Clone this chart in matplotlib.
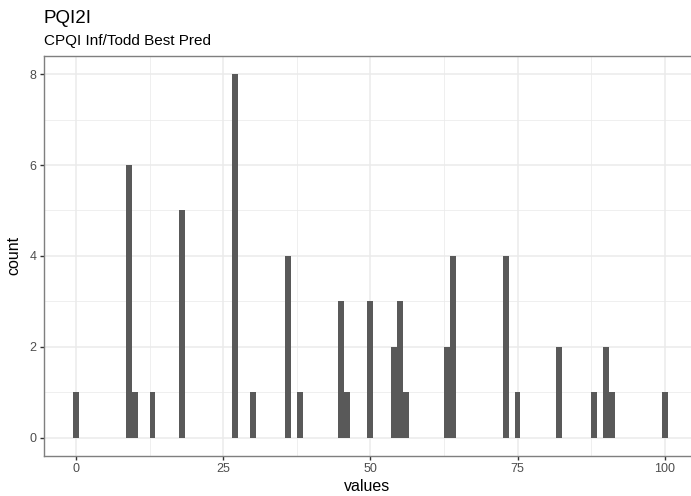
import matplotlib.pyplot as plt
import numpy as np

values = [0, 9, 10, 13, 18, 27, 30, 36, 38, 45, 46, 50, 54, 55, 56,
          63, 64, 73, 75, 82, 88, 90, 91, 100]
counts = [1, 6, 1, 1, 5, 8, 1, 4, 1, 3, 1, 3, 2, 3, 1,
          2, 4, 4, 1, 2, 1, 2, 1, 1]
xticks = [0, 25, 50, 75, 100]
yticks = [0, 2, 4, 6, 8]

plt.rcParams['font.family'] = ['Liberation Sans', 'DejaVu Sans']

W, H = 691, 496
fig = plt.figure(figsize=(W / 100, H / 100), dpi=100)
left, right, top, bottom = 43.7, 691, 56, 455.7
ax = fig.add_axes([left / W, 1 - bottom / H, (right - left) / W, (bottom - top) / H])

ax.bar(values, counts, width=1.0, color='#595959', edgecolor='none', zorder=3)

ax.set_xlim(-5.49, 104.47)
ax.set_ylim(-0.4, 8.4)
ax.set_xticks(xticks)
ax.set_yticks(yticks)
ax.set_xticks([12.5, 37.5, 62.5, 87.5], minor=True)
ax.set_yticks([1, 3, 5, 7], minor=True)
ax.grid(True, which='major', color='#ebebeb', lw=1.1, zorder=0)
ax.grid(True, which='minor', color='#ebebeb', lw=0.55, zorder=0)
ax.tick_params(which='major', length=3, width=1, color='#333333',
               labelsize=9, labelcolor='#4d4d4d', pad=2)
ax.tick_params(which='minor', length=0)

for s in ['left', 'top', 'bottom']:
    ax.spines[s].set_color('#7f7f7f')
    ax.spines[s].set_linewidth(1.0)
ax.spines['right'].set_visible(False)

ax.set_xlabel('values', fontsize=11.5, labelpad=3)
ax.set_ylabel('count', fontsize=11.5, labelpad=6)

fig.text(left / W, 1 - 22.7 / H, 'PQI2I', fontsize=13.5, ha='left', va='baseline')
fig.text(left / W, 1 - 45 / H, 'CPQI Inf/Todd Best Pred', fontsize=11, ha='left', va='baseline')

fig.savefig('out.png', dpi=100)
